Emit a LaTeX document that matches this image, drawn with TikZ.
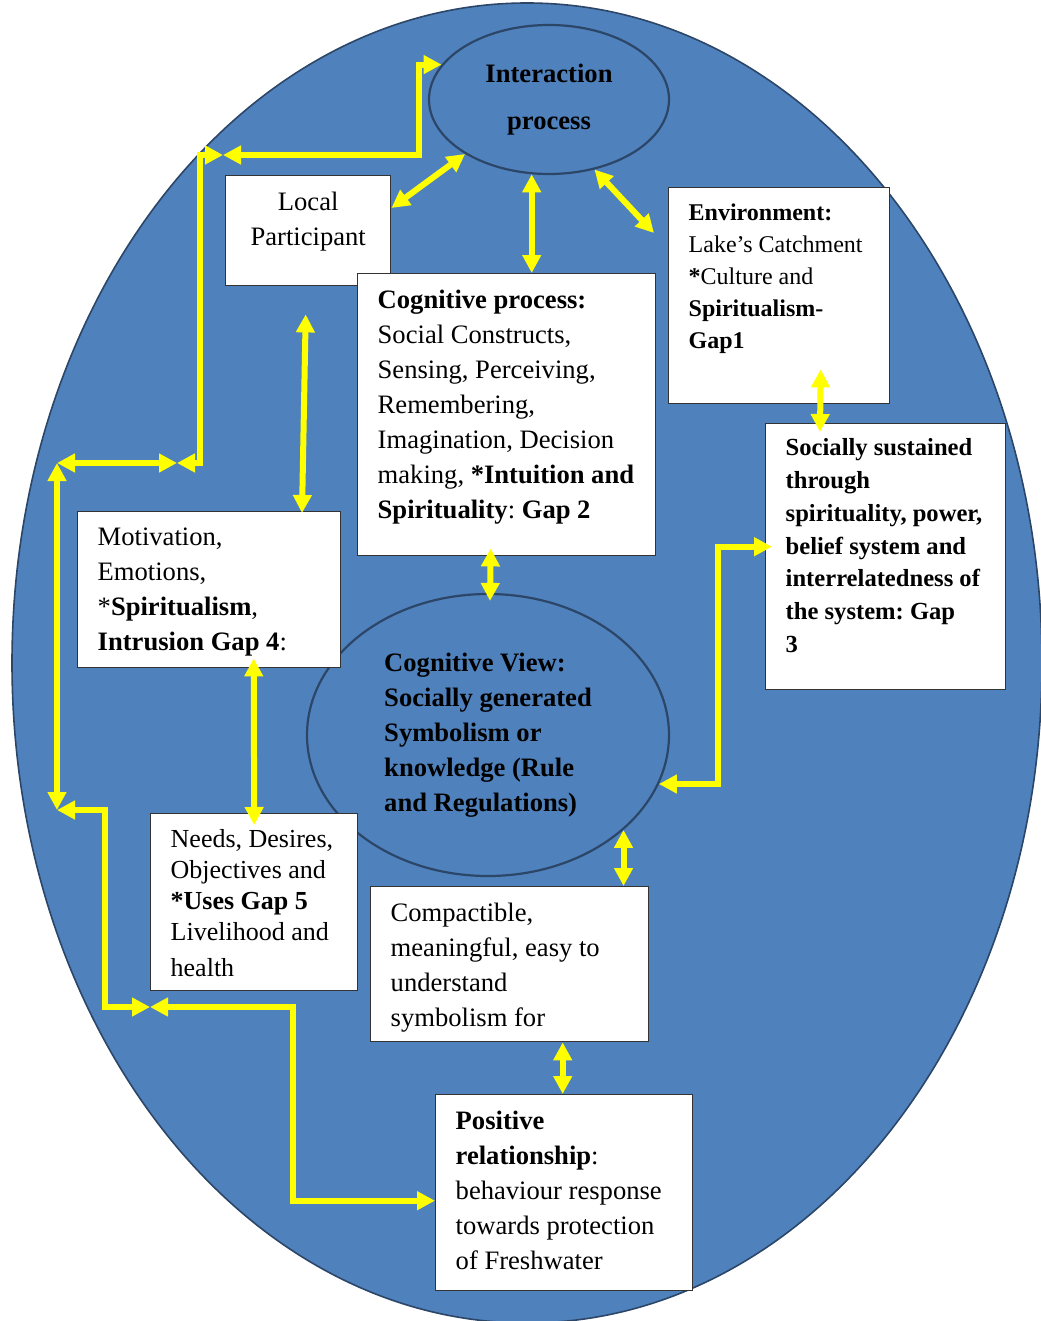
\documentclass[tikz,border=0pt]{standalone}
\usepackage{fontspec}
\setmainfont{Liberation Serif}
\usetikzlibrary{arrows.meta,shapes.geometric}
\definecolor{bigblue}{HTML}{4F81BD}
\definecolor{edgeblue}{HTML}{2C4668}
\definecolor{linkyellow}{HTML}{FFFF00}
\newcommand{\boxtext}[3]{\parbox[t][#2][t]{#1}{#3}}
\frenchspacing
\begin{document}
\begin{tikzpicture}[x=0.5pt,y=-0.5pt,>={Triangle[length=9pt,width=9pt]},
    gbox/.style={draw=black!80,line width=0.7pt,fill=white,anchor=north west,
      inner xsep=10pt,inner ysep=8pt,font=\fontsize{13.3}{17.5}\selectfont},
    oval/.style={ellipse,draw=edgeblue,line width=1.1pt,fill=bigblue,inner sep=0pt,
      font=\bfseries\fontsize{13.3}{17.5}\selectfont},
    link/.style={draw=linkyellow,line width=3pt}]
    \useasboundingbox (0,0) rectangle (1040,1321);
    \draw[fill=bigblue,draw=edgeblue,line width=0.8pt] (527,663) ellipse [x radius=257.5pt,y radius=330pt];
    \node[oval,minimum width=120pt,minimum height=74.5pt,align=center,
      font=\bfseries\fontsize{13.3}{23.5}\selectfont] (ip) at (549,99.5) {Interaction\\process};
    \node[oval,minimum width=181pt,minimum height=141pt,align=left] (cv) at (488,735)
      {Cognitive View:\\Socially generated\\Symbolism or\\knowledge (Rule\\and Regulations)};
    \node[gbox] (lp) at (225,175) {\boxtext{62.5pt}{39pt}{\centering Local\\Participant}};
    \node[gbox] (cp) at (357,273) {\boxtext{129pt}{125pt}{\textbf{Cognitive process:}\\Social Constructs,\\Sensing, Perceiving,\\Remembering,\\Imagination, Decision\\making, \textbf{*Intuition and}\\\textbf{Spirituality}: \textbf{Gap 2}}};
    \node[gbox,font=\fontsize{12}{16}\selectfont] (env) at (668,187) {\boxtext{90.5pt}{92pt}{\textbf{Environment:}\\Lake’s Catchment\\\textbf{*}Culture and\\\textbf{Spiritualism-}\\\textbf{Gap1}}};
    \node[gbox,inner ysep=7.5pt,font=\bfseries\fontsize{12.3}{16.4}\selectfont] (soc) at (765,423) {\boxtext{100pt}{118pt}{Socially sustained\\through\\spirituality, power,\\belief system and\\interrelatedness of\\the system: Gap\\3}};
    \node[gbox] (mot) at (77,511) {\boxtext{111.5pt}{62pt}{Motivation,\\Emotions,\\{}*\textbf{Spiritualism},\\\textbf{Intrusion Gap 4}:}};
    \node[gbox,font=\fontsize{13}{15.5}\selectfont] (need) at (150,813) {\boxtext{83.5pt}{72.5pt}{Needs, Desires,\\Objectives and\\\textbf{*Uses Gap 5}\\Livelihood and\\[2.5pt]health}};
    \node[gbox] (comp) at (370,886) {\boxtext{119pt}{61.5pt}{Compactible,\\meaningful, easy to\\understand\\symbolism for}};
    \node[gbox] (pos) at (435,1094) {\boxtext{108.5pt}{82pt}{\textbf{Positive}\\\textbf{relationship}:\\behaviour response\\towards protection\\of Freshwater}};
    \coordinate (j1) at (223,155);
    \coordinate (j2) at (177,463);
    \coordinate (j3) at (57,463);
    \coordinate (j4) at (57,810);
    \coordinate (j5) at (150,1007);
    \draw[link,<->] ([yshift=-16.5pt]lp.north east) -- (ip.213);
    \draw[link,<->] (ip.257) -- (ip.257 |- cp.north);
    \draw[link,<->] (ip.303) -- ([xshift=-7pt,yshift=-23pt]env.north west);
    \draw[link,<->] ([xshift=20.75pt,yshift=17.5pt]env.south) -- ([xshift=27.5pt,yshift=-4.5pt]soc.north west);
    \draw[link,<->] ([xshift=-1.25pt,yshift=-14pt]lp.south) -- ([xshift=112.5pt,yshift=-1pt]mot.north west);
    \draw[link,<->] ([xshift=-8pt,yshift=4pt]cp.south) -- ([xshift=1pt,yshift=-4pt]cv.north);
    \draw[link,<->] ([xshift=22.25pt,yshift=5pt]mot.south) -- ([yshift=-6pt]need.north);
    \draw[link,<->] (cv.-35) -- (cv.-35 |- comp.north);
    \draw[link,<->] ([xshift=26.5pt]comp.south) -- ([xshift=26.5pt]comp.south |- pos.north);
    \draw[link,<->] (cv.-16) -- ++(59,0) |- ([xshift=3.5pt,yshift=5pt]soc.west);
    \draw[link,<->] (j1) -| ([xshift=-11.5pt]ip.162) -- (ip.162);
    \draw[link,<->] (j1) -- ++(-23,0) |- (j2);
    \draw[link,<->] (j2) -- (j3);
    \draw[link,<->] (j3) -- (j4);
    \draw[link,<->] (j4) -- ++(48,0) |- (j5);
    \draw[link,<->] (j5) -- ++(143,0) |- ([yshift=-4pt]pos.west);
  \end{tikzpicture}
\end{document}
